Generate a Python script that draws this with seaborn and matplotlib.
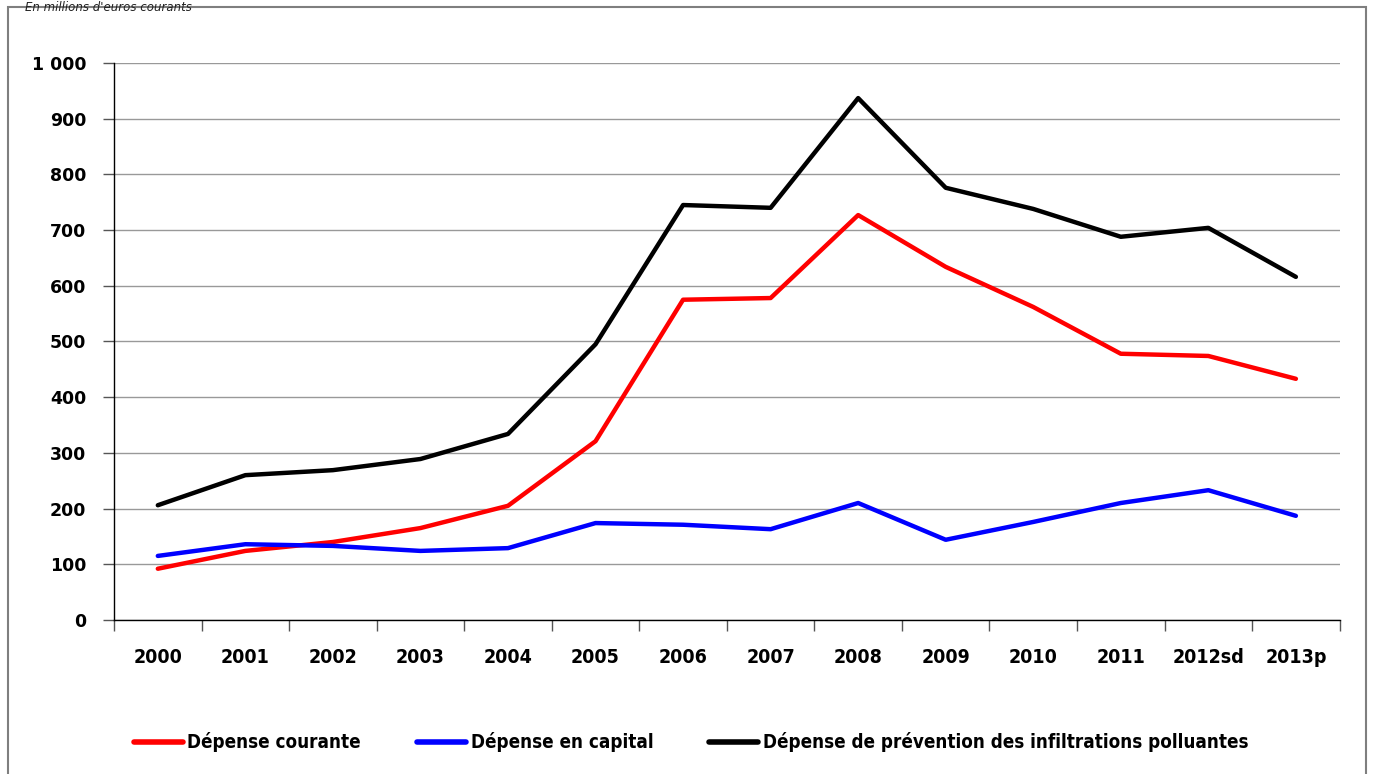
import numpy as np
import pandas as pd
import matplotlib
matplotlib.use("Agg")
import matplotlib.pyplot as plt
import seaborn as sns
from matplotlib.patches import Rectangle

# Data (millions of current euros)
years = ['2000', '2001', '2002', '2003', '2004', '2005', '2006', '2007',
         '2008', '2009', '2010', '2011', '2012sd', '2013p']
courante = [92, 124, 140, 165, 205, 321, 575, 578, 727, 634, 562, 478, 474, 433]
capital = [115, 136, 133, 124, 129, 174, 171, 163, 210, 144, 176, 210, 233, 187]
prevention = [206, 260, 269, 289, 334, 495, 745, 740, 937, 776, 738, 688, 704, 616]

series_names = ['Dépense courante', 'Dépense en capital',
                'Dépense de prévention des infiltrations polluantes']
series_colors = ['#ff0000', '#0000ff', '#000000']


def build_frame():
    rows = []
    for name, vals in zip(series_names, [courante, capital, prevention]):
        for i, v in enumerate(vals):
            rows.append({'idx': i, 'valeur': v, 'serie': name})
    return pd.DataFrame(rows)


def main():
    sns.set_style('white')
    plt.rcParams['font.family'] = ['DejaVu Sans']
    plt.rcParams['text.color'] = 'black'
    plt.rcParams['xtick.color'] = 'black'
    plt.rcParams['ytick.color'] = 'black'

    df = build_frame()
    fig = plt.figure(figsize=(13.74, 7.74), dpi=100)
    ax = fig.add_axes([0.083, 0.199, 0.892, 0.7196])

    # outer frame of the chart
    fig.patches.append(Rectangle((0.006, -0.05), 0.988, 1.041, transform=fig.transFigure,
                                 fill=False, edgecolor='#7f7f7f', linewidth=1.5))
    fig.text(0.018, 0.999, "En millions d'euros courants", fontsize=8.5, style='italic',
             color='#222222', ha='left', va='top')

    sns.lineplot(data=df, x='idx', y='valeur', hue='serie', palette=series_colors,
                 hue_order=series_names, linewidth=3.2, ax=ax, legend=False)

    ax.set_xlim(-0.5, len(years) - 0.5)
    ax.set_ylim(0, 1000)
    ax.set_yticks(np.arange(0, 1001, 100))
    ax.set_yticklabels(['1 000' if v == 1000 else str(v) for v in range(0, 1001, 100)],
                       fontweight='bold', fontsize=12.5)
    ax.yaxis.grid(True, color='#999999', linewidth=1)
    ax.set_axisbelow(True)

    # category labels centered, tick marks between categories
    ax.set_xticks(np.arange(-0.5, len(years), 1.0))
    ax.set_xticklabels([])
    ax.set_xticks(np.arange(len(years)), minor=True)
    ax.set_xticklabels(years, minor=True, fontweight='bold', fontsize=14,
                       fontstretch='condensed')
    ax.tick_params(axis='x', which='minor', bottom=True, length=0, pad=20)
    ax.tick_params(axis='x', which='major', bottom=True, length=8, width=1,
                   color='#555555', direction='out')
    ax.tick_params(axis='y', left=True, length=8, width=1, color='#555555',
                   direction='out', pad=12)

    for s in ['top', 'right']:
        ax.spines[s].set_visible(False)
    for s in ['left', 'bottom']:
        ax.spines[s].set_color('black')
        ax.spines[s].set_linewidth(1)
    ax.set_xlabel('')
    ax.set_ylabel('')

    handles = [plt.Line2D([0], [0], color=c, linewidth=4) for c in series_colors]
    fig.legend(handles, series_names, loc='center', bbox_to_anchor=(0.503, 0.041),
               ncol=3, frameon=False, handlelength=2.6, handletextpad=0.25, columnspacing=3.0,
               prop={'weight': 'bold', 'size': 13.5, 'stretch': 'condensed'})

    fig.savefig('out.png', dpi=100)
    plt.close(fig)


if __name__ == '__main__':
    main()
